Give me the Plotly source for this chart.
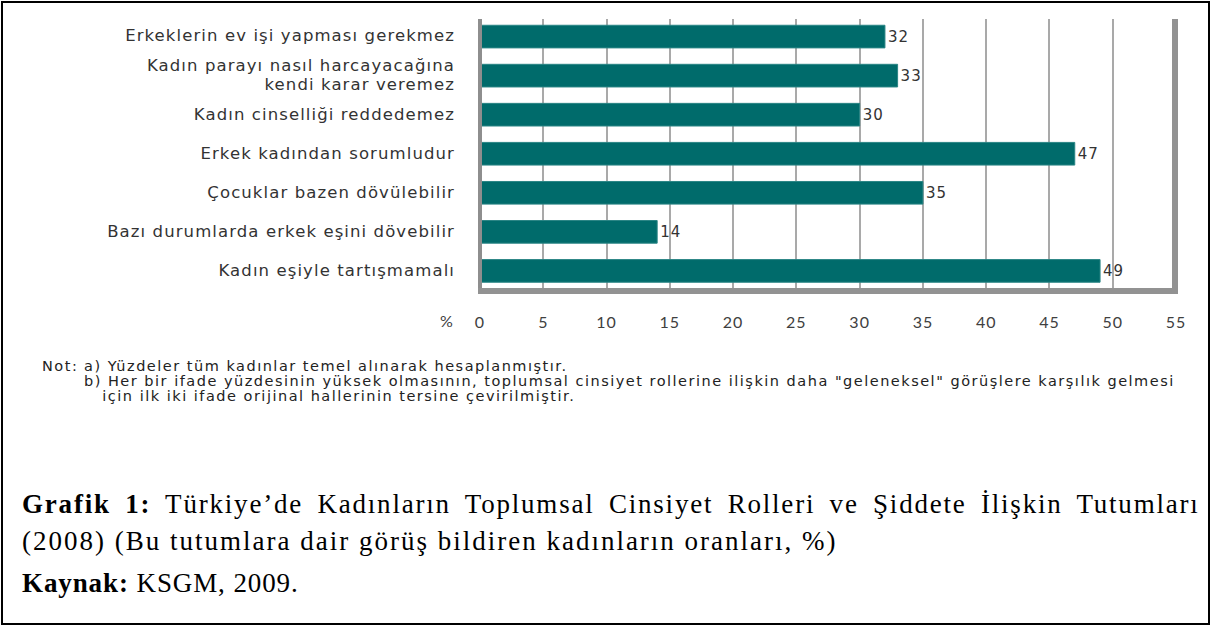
import plotly.graph_objects as go

W, H = 1211, 626

categories = [
    "Erkeklerin ev işi yapması gerekmez",
    "Kadın parayı nasıl harcayacağına<br>kendi karar veremez",
    "Kadın cinselliği reddedemez",
    "Erkek kadından sorumludur",
    "Çocuklar bazen dövülebilir",
    "Bazı durumlarda erkek eşini dövebilir",
    "Kadın eşiyle tartışmamalı",
]
values = [32, 33, 30, 47, 35, 14, 49]
x_ticks = [0, 5, 10, 15, 20, 25, 30, 35, 40, 45, 50, 55]

note_label = "Not:"
note_lines = [
    "a) Yüzdeler tüm kadınlar temel alınarak hesaplanmıştır.",
    "b) Her bir ifade yüzdesinin yüksek olmasının, toplumsal cinsiyet rollerine ilişkin daha \"geleneksel\" görüşlere karşılık gelmesi",
    "için ilk iki ifade orijinal hallerinin tersine çevirilmiştir.",
]
caption1 = "<b>Grafik 1:</b> Türkiye’de Kadınların Toplumsal Cinsiyet Rolleri ve Şiddete İlişkin Tutumları"
caption2 = "(2008) (Bu tutumlara dair görüş bildiren kadınların oranları, %)"
caption3 = "<b>Kaynak:</b> KSGM, 2009."

def px(x):
    return x / W

def py(y):
    return 1 - y / H

def styled(txt, style):
    return "<br>".join(f'<span style="{style}">{part}</span>' for part in txt.split("<br>"))

cat_style = "font-size:16.5px;letter-spacing:1.1px"

fig = go.Figure()
fig.add_trace(go.Bar(
    x=values, y=categories, orientation="h",
    marker=dict(color="#006b6b", line=dict(color="#2a8585", width=1)),
    width=0.58,
    text=[styled(str(v), "letter-spacing:1px") for v in values], textposition="outside",
    textfont=dict(family="DejaVu Sans", size=15, color="#333333"),
    cliponaxis=False,
    hoverinfo="skip",
))

fig.update_layout(
    width=W, height=H,
    margin=dict(l=0, r=0, t=0, b=0),
    paper_bgcolor="white", plot_bgcolor="white",
    showlegend=False,
    xaxis=dict(
        domain=[px(480), px(1176)], range=[0, 55],
        tickvals=x_ticks, ticktext=[styled(str(t), "letter-spacing:1px") for t in x_ticks],
        showgrid=True, gridcolor="#a9a9a9", gridwidth=1.5,
        zeroline=False, showline=False, ticks="",
        tickfont=dict(family="Lato", size=16, color="#404040"),
        ticklabelstandoff=19, automargin=False,
    ),
    yaxis=dict(
        domain=[py(292), py(19)],
        categoryorder="array", categoryarray=categories,
        tickvals=categories, ticktext=[styled(c, cat_style) for c in categories],
        range=[6.54, -0.45],
        showgrid=False, zeroline=False, showline=False, ticks="",
        tickfont=dict(family="DejaVu Sans", size=14, color="#333333"),
        ticklabelstandoff=24, automargin=False,
    ),
)

shapes = []
shapes.append(dict(type="line", xref="paper", yref="paper",
                   x0=px(480), x1=px(480), y0=py(19), y1=py(293),
                   line=dict(color="#8e8e8e", width=4)))
shapes.append(dict(type="line", xref="paper", yref="paper",
                   x0=px(1175), x1=px(1175), y0=py(19), y1=py(294),
                   line=dict(color="#929292", width=6)))
shapes.append(dict(type="line", xref="paper", yref="paper",
                   x0=px(478), x1=px(1178), y0=py(291), y1=py(291),
                   line=dict(color="#929292", width=6)))
shapes.append(dict(type="rect", xref="paper", yref="paper",
                   x0=px(2), x1=px(1209), y0=py(2), y1=py(624),
                   line=dict(color="black", width=2), fillcolor="rgba(0,0,0,0)"))
fig.update_layout(shapes=shapes)

ann = []
ann.append(dict(text="%", xref="paper", yref="paper", x=px(446), y=py(320),
                showarrow=False, xanchor="center", yanchor="middle",
                font=dict(family="Lato", size=16, color="#404040")))
note_style = "font-size:14.5px;letter-spacing:1.5px"
ann.append(dict(text=styled(note_label, note_style), xref="paper", yref="paper",
                x=px(40), y=py(366), showarrow=False, xanchor="left", yanchor="middle",
                font=dict(family="DejaVu Sans", size=14, color="#222222")))
note_text = styled(note_lines[0], note_style) + "<br>" + styled(note_lines[1], note_style) + \
    "<br>" + styled("&nbsp;&nbsp;&nbsp;" + note_lines[2], note_style)
ann.append(dict(text=note_text, xref="paper", yref="paper", x=px(82), y=py(381),
                showarrow=False, xanchor="left", yanchor="middle", align="left",
                font=dict(family="DejaVu Sans", size=11.5, color="#222222")))
cap_font = dict(family="Liberation Serif", size=27, color="black")
for txt, yy, st in [(caption1, 504, "letter-spacing:1.8px;word-spacing:5.8px"),
                    (caption2, 541, "letter-spacing:2.0px"),
                    (caption3, 583, "letter-spacing:0.9px")]:
    ann.append(dict(text=f'<span style="{st}">{txt}</span>', xref="paper", yref="paper",
                    x=px(20), y=py(yy),
                    showarrow=False, xanchor="left", yanchor="middle", font=cap_font))
fig.update_layout(annotations=ann)

fig.write_html("out.html", config={"displayModeBar": False},
               post_script="document.body.style.margin='0';document.body.style.overflow='hidden';")
